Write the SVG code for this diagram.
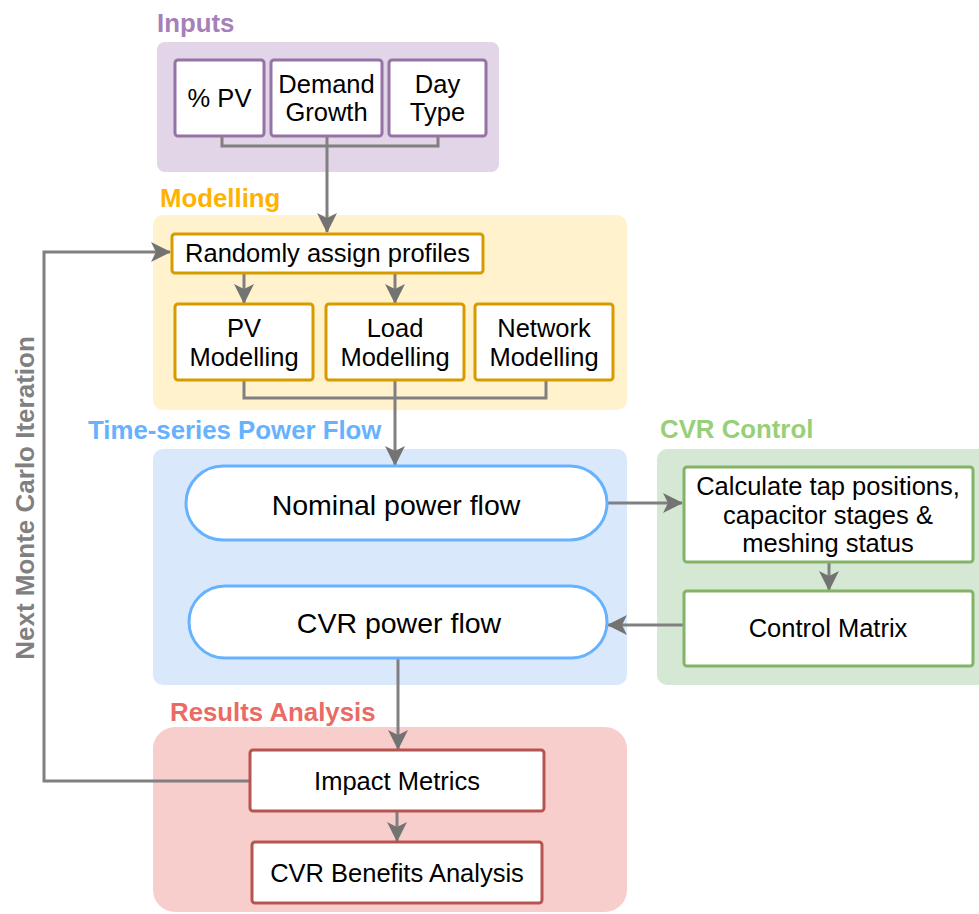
<svg xmlns="http://www.w3.org/2000/svg" width="979" height="914" viewBox="0 0 979 914">
<style>
text{font-family:"Liberation Sans",Arial,sans-serif;text-anchor:middle;fill:#000}
.t{font-weight:bold;text-anchor:start;font-size:25.8px}
.b{font-size:25.5px}
.p{font-size:28.5px}
.box{fill:#fff;stroke-width:3}
.pu{stroke:#9673A6}.or{stroke:#D79B00}.bl{stroke:#66B2FF}.gr{stroke:#82B366}.rd{stroke:#B85450}
.c{fill:none;stroke:#808080;stroke-width:3}
</style>
<defs>
<marker id="ah" viewBox="0 0 20 20" refX="19" refY="10" markerWidth="20" markerHeight="20" markerUnits="userSpaceOnUse" orient="auto">
<path d="M0,0 L20,10 L0,20 L5,10 Z" fill="#737373"/>
</marker>
</defs>
<g id="containers">
<rect x="157" y="42" width="342" height="130" rx="8" fill="#E1D5E7"/>
<rect x="153" y="215" width="474" height="195" rx="10" fill="#FFF2CC"/>
<rect x="153" y="449" width="474" height="236" rx="10" fill="#DAE8FC"/>
<rect x="657" y="449" width="340" height="236" rx="10" fill="#D5E8D4"/>
<rect x="153" y="727" width="474" height="185" rx="22" fill="#F8CECC"/>
</g>
<g id="titles">
<text class="t" x="157" y="32" style="fill:#A680B8">Inputs</text>
<text class="t" x="160" y="207" style="fill:#FFB300">Modelling</text>
<text class="t" x="88" y="439" style="fill:#66B2FF">Time-series Power Flow</text>
<text class="t" x="660" y="438" style="fill:#97D077">CVR Control</text>
<text class="t" x="170" y="721" style="fill:#EA6B66">Results Analysis</text>
<text class="t" transform="translate(34,498) rotate(-90)" style="fill:#808080;text-anchor:middle;font-size:26px">Next Monte Carlo Iteration</text>
</g>
<g id="connectors">
<path class="c" d="M222,136 V146 H438 V136"/>
<path class="c" d="M327,136 V232" marker-end="url(#ah)"/>
<path class="c" d="M244,273 V303" marker-end="url(#ah)"/>
<path class="c" d="M395,273 V303" marker-end="url(#ah)"/>
<path class="c" d="M244,380 V398 H546 V380"/>
<path class="c" d="M395,380 V465" marker-end="url(#ah)"/>
<path class="c" d="M607,503 H682" marker-end="url(#ah)"/>
<path class="c" d="M829,562 V590" marker-end="url(#ah)"/>
<path class="c" d="M683,625 H608" marker-end="url(#ah)"/>
<path class="c" d="M398,658 V749" marker-end="url(#ah)"/>
<path class="c" d="M397,811 V841" marker-end="url(#ah)"/>
<path class="c" d="M249,781 H44 V252 H170" marker-end="url(#ah)"/>
</g>
<g id="pv-pct"><rect class="box pu" x="175" y="60" width="89" height="76" rx="3"/><text class="b" x="219.5" y="107">% PV</text></g>
<g id="demand-growth"><rect class="box pu" x="271" y="60" width="111" height="76" rx="3"/><text class="b" x="326.5" y="93">Demand</text><text class="b" x="326.5" y="121">Growth</text></g>
<g id="day-type"><rect class="box pu" x="389" y="60" width="97" height="76" rx="3"/><text class="b" x="437.5" y="93">Day</text><text class="b" x="437.5" y="121">Type</text></g>
<g id="random-profiles"><rect class="box or" x="172" y="234" width="311" height="39" rx="3"/><text class="b" x="327.5" y="262">Randomly assign profiles</text></g>
<g id="pv-modelling"><rect class="box or" x="175" y="304" width="138" height="76" rx="3"/><text class="b" x="244" y="337">PV</text><text class="b" x="244" y="366">Modelling</text></g>
<g id="load-modelling"><rect class="box or" x="326" y="304" width="138" height="76" rx="3"/><text class="b" x="395" y="337">Load</text><text class="b" x="395" y="366">Modelling</text></g>
<g id="network-modelling"><rect class="box or" x="475" y="304" width="138" height="76" rx="3"/><text class="b" x="544" y="337">Network</text><text class="b" x="544" y="366">Modelling</text></g>
<g id="nominal-pf"><rect class="box bl" x="186" y="466" width="421" height="74" rx="37"/><text class="p" x="396" y="515">Nominal power flow</text></g>
<g id="cvr-pf"><rect class="box bl" x="189" y="586" width="418" height="72" rx="36"/><text class="p" x="399" y="633">CVR power flow</text></g>
<g id="calc-tap"><rect class="box gr" x="684" y="467" width="289" height="95" rx="3"/><text class="b" x="828" y="495">Calculate tap positions,</text><text class="b" x="828" y="524">capacitor stages &amp;</text><text class="b" x="828" y="552">meshing status</text></g>
<g id="control-matrix"><rect class="box gr" x="684" y="591" width="289" height="75" rx="3"/><text class="b" x="828" y="637">Control Matrix</text></g>
<g id="impact-metrics"><rect class="box rd" x="250" y="750" width="294" height="61" rx="3"/><text class="b" x="397" y="790">Impact Metrics</text></g>
<g id="cvr-benefits"><rect class="box rd" x="252" y="842" width="290" height="61" rx="3"/><text class="b" x="397" y="882">CVR Benefits Analysis</text></g>
</svg>
